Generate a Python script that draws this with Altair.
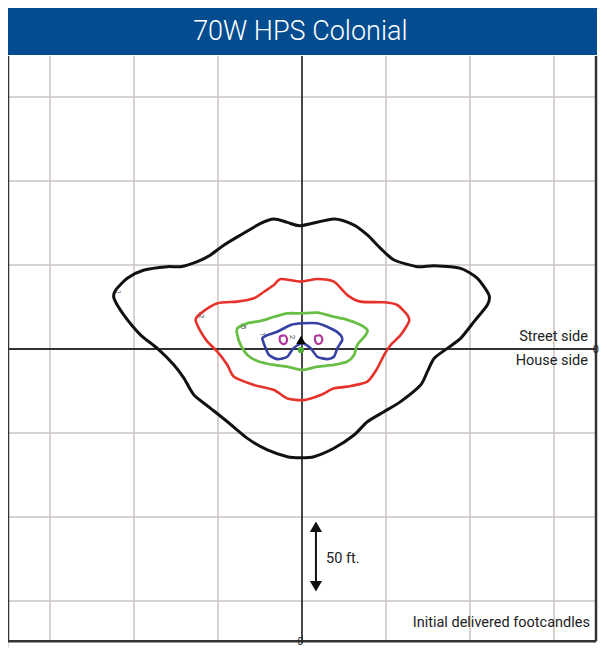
import altair as alt
import pandas as pd

# ---- data (feet, origin at luminaire) ----
black_x = [-0.8, 19.0, 31.0, 38.9, 46.8, 54.8, 68.7, 78.6, 94.4, 104.4, 111.3, 110.3, 102.4, 94.4, 86.5, 78.6, 74.6, 70.6,
           58.7, 48.8, 38.9, 31.0, 19.0, 7.1, -0.8, -8.7, -20.6, -32.5, -44.4, -54.4, -64.3, -70.2, -76.2, -86.1, -96.0,
           -106.0, -111.9, -110.9, -104.0, -94.0, -80.2, -72.2, -62.3, -54.4, -46.4, -36.5, -24.6, -16.7, -8.7]
black_y = [73.4, 77.4, 73.8, 67.9, 59.9, 53.0, 49.0, 49.6, 48.0, 42.1, 32.1, 26.2, 16.3, 6.3, 0.4, -5.6, -13.5, -21.4,
           -31.3, -37.3, -43.3, -51.2, -59.1, -64.1, -64.7, -64.1, -60.1, -53.2, -43.3, -35.3, -27.4, -17.5, -9.5, 0.4, 8.3,
           20.2, 30.2, 35.1, 42.1, 47.0, 49.0, 49.0, 52.0, 56.0, 61.9, 67.9, 74.8, 77.4, 75.4]

red_x = [-12.7, -0.8, 9.1, 19.0, 27.0, 34.9, 48.8, 56.7, 62.7, 63.7, 58.7, 52.8, 48.8, 44.8, 38.9, 27.0, 19.0, 11.1, 1.2,
         -8.7, -16.7, -28.6, -40.5, -44.4, -50.4, -56.3, -60.3, -63.3, -60.3, -50.4, -38.5, -28.6, -22.6, -16.7]
red_y = [41.7, 40.1, 41.7, 40.1, 32.1, 28.2, 27.8, 26.2, 20.2, 16.3, 8.3, 2.4, -3.6, -11.5, -19.4, -22.4, -23.4, -27.4, -30.4,
         -29.4, -24.4, -21.4, -16.5, -9.5, -1.6, 4.4, 10.3, 17.3, 21.2, 27.2, 28.2, 30.2, 34.1, 38.1]

green_x = [-0.8, 9.1, 19.0, 27.0, 34.9, 38.9, 37.9, 32.9, 31.0, 27.0, 19.0, 9.1, 0.2, -8.7, -16.7, -26.6, -32.5, -36.5,
           -38.5, -38.5, -32.5, -24.6, -16.7, -8.7]
green_y = [21.2, 21.6, 19.2, 17.3, 14.3, 11.3, 8.3, 2.4, -3.6, -7.5, -9.5, -10.5, -12.5, -10.5, -9.5, -7.1, -3.6, 2.4,
           8.3, 12.3, 15.3, 16.7, 19.2, 21.2]

blue_x = [0.0, 9.1, 19.0, 23.0, 24.0, 21.0, 19.0, 15.1, 9.1, 5.2, 0.0, -5.2, -8.7, -14.7, -19.6, -21.6, -23.6, -20.6, -14.7, -6.7]
blue_y = [15.3, 15.3, 11.3, 8.3, 5.4, 0.4, -4.6, -6.0, -4.6, 0.4, 3.4, 0.4, -4.6, -6.0, -3.6, 0.4, 6.3, 8.3, 10.3, 14.3]

mag_left_x = [-12.9, -10.3, -8.9, -9.5, -11.3, -12.9, -13.3]
mag_left_y = [7.6, 8.0, 6.2, 3.6, 2.9, 4.2, 6.0]
mag_right_x = [8.1, 10.9, 12.1, 11.3, 9.3, 7.9, 7.7]
mag_right_y = [7.8, 8.0, 6.0, 3.6, 3.0, 4.6, 6.4]

contour_labels = [".1", ".2", ".5", "1", "2"]
label_x = [-109.5, -60.1, -35.1, -23.8, -6.0]
label_y = [34.5, 20.2, 13.7, 8.9, 7.1]

grid_ticks = [-150, -100, -50, 50, 100, 150]
title_text = "70W HPS Colonial"

# ---- layout constants ----
X0, X1 = -175.0, 176.79
Y0, Y1 = -177.98, 203.0
PX, PY = -175.0, 175.0   # plot frame
PB, PT = -174.0, 174.4

FONT = "Roboto, Liberation Sans, sans-serif"

xs = alt.Scale(domain=[X0, X1], nice=False, zero=False)
ys = alt.Scale(domain=[Y0, Y1], nice=False, zero=False)


def X(f="x"):
    return alt.X(f"{f}:Q", scale=xs, axis=None)


def Y(f="y"):
    return alt.Y(f"{f}:Q", scale=ys, axis=None)


# grid lines
grid_rows = []
for t in grid_ticks:
    grid_rows.append({"x": t, "x2": t, "y": PB, "y2": PT})
    grid_rows.append({"x": PX, "x2": PY, "y": t, "y2": t})
grid = alt.Chart(pd.DataFrame(grid_rows)).mark_rule(color="#cbc3c3", strokeWidth=1.5).encode(
    x=X(), x2="x2:Q", y=Y(), y2="y2:Q")

axes_rows = [{"x": 0, "x2": 0, "y": PB - 1.2, "y2": PT},
             {"x": PX, "x2": PY, "y": 0, "y2": 0}]
axes = alt.Chart(pd.DataFrame(axes_rows)).mark_rule(color="#333333", strokeWidth=1.8).encode(
    x=X(), x2="x2:Q", y=Y(), y2="y2:Q")

frame_rows = [{"x": PX, "x2": PX, "y": PB, "y2": PT},
              {"x": PY, "x2": PY, "y": PB, "y2": PT},
              {"x": PX, "x2": PY, "y": PB, "y2": PB}]
frame = alt.Chart(pd.DataFrame(frame_rows)).mark_rule(color="#333333", strokeWidth=2.5).encode(
    x=X(), x2="x2:Q", y=Y(), y2="y2:Q")

# title bar
bar = alt.Chart(pd.DataFrame([{"x": PX, "x2": 175.6, "y": 175.0, "y2": Y1}])).mark_rect(color="#024c8f").encode(
    x=X(), x2="x2:Q", y=Y(), y2="y2:Q")
title = alt.Chart(pd.DataFrame([{"x": -1.0, "y": 189.0, "t": title_text}])).mark_text(
    font=FONT, fontWeight=300, fontSize=27, color="white", align="center", baseline="middle").encode(
    x=X(), y=Y(), text="t:N")


# contours (closed loops)
def loop(name, xv, yv):
    return [{"c": name, "x": a, "y": b, "o": i} for i, (a, b) in enumerate(zip(xv, yv))]


def contour(rows, color, width):
    return alt.Chart(pd.DataFrame(rows)).mark_line(
        color=color, strokeWidth=width, interpolate="cardinal-closed", tension=0.3).encode(
        x=X(), y=Y(), order="o:Q", detail="c:N")


c_black = contour(loop("k", black_x, black_y), "#111111", 3)
c_red = contour(loop("r", red_x, red_y), "#e5322a", 2.6)
c_green = contour(loop("g", green_x, green_y), "#69bf45", 2.8)
c_blue = contour(loop("b", blue_x, blue_y), "#3540a3", 2.6)
c_mag = contour(loop("m1", mag_left_x, mag_left_y) + loop("m2", mag_right_x, mag_right_y), "#b0369c", 2.2)

labels = alt.Chart(pd.DataFrame({"x": label_x, "y": label_y, "t": contour_labels})).mark_text(
    fontSize=8, color="#555555", angle=90, font=FONT).encode(x=X(), y=Y(), text="t:N")

tri = alt.Chart(pd.DataFrame([{"x": -0.6, "y": 5.4}])).mark_point(
    shape="triangle-up", filled=True, color="#000000", size=90, opacity=1).encode(x=X(), y=Y())
dot = alt.Chart(pd.DataFrame([{"x": -0.6, "y": -0.6}])).mark_point(
    shape="circle", filled=True, color="#4fae3a", size=40, opacity=1).encode(x=X(), y=Y())

# 50 ft arrow
arrow_line = alt.Chart(pd.DataFrame([{"x": 8.3, "y": -106.0, "y2": -141.0}])).mark_rule(
    color="#111111", strokeWidth=2).encode(x=X(), y=Y(), y2="y2:Q")
arrow_heads = alt.Chart(pd.DataFrame([{"x": 8.3, "y": -105.8, "s": "triangle-up"},
                                      {"x": 8.3, "y": -141.2, "s": "triangle-down"}])).mark_point(
    filled=True, color="#111111", size=150, opacity=1).encode(
    x=X(), y=Y(), shape=alt.Shape("s:N", scale=None, legend=None))

txt_rows = [
    {"x": 170.2, "y": 4.8, "t": "Street side"},
    {"x": 170.2, "y": -9.5, "t": "House side"},
    {"x": 171.4, "y": -165.5, "t": "Initial delivered footcandles"},
]
txt_right = alt.Chart(pd.DataFrame(txt_rows)).mark_text(
    font=FONT, fontSize=14.5, color="#222222", align="right", baseline="alphabetic").encode(
    x=X(), y=Y(), text="t:N")
txt_left = alt.Chart(pd.DataFrame([{"x": 14.3, "y": -127.4, "t": "50 ft."}])).mark_text(
    font=FONT, fontSize=14.5, color="#222222", align="left", baseline="alphabetic").encode(
    x=X(), y=Y(), text="t:N")
txt_zero_r = alt.Chart(pd.DataFrame([{"x": 176.7, "y": -2.6, "t": "0"}])).mark_text(
    font=FONT, fontSize=11, color="#222222", align="right", baseline="alphabetic").encode(
    x=X(), y=Y(), text="t:N")
txt_zero_b = alt.Chart(pd.DataFrame([{"x": -1.0, "y": -177.6, "t": "0"}])).mark_text(
    font=FONT, fontSize=10, color="#222222", align="center", baseline="bottom").encode(
    x=X(), y=Y(), text="t:N")

chart = alt.layer(
    grid, axes, frame, bar, title,
    c_black, c_red, c_green, c_blue, c_mag, labels, tri, dot,
    arrow_line, arrow_heads, txt_right, txt_left, txt_zero_r, txt_zero_b
).properties(
    width=591, height=640, padding=0, autosize=alt.AutoSizeParams(type="none")
).configure_view(stroke=None).configure(background="white")

chart.save("out.html", embed_options={"renderer": "svg", "actions": False})
